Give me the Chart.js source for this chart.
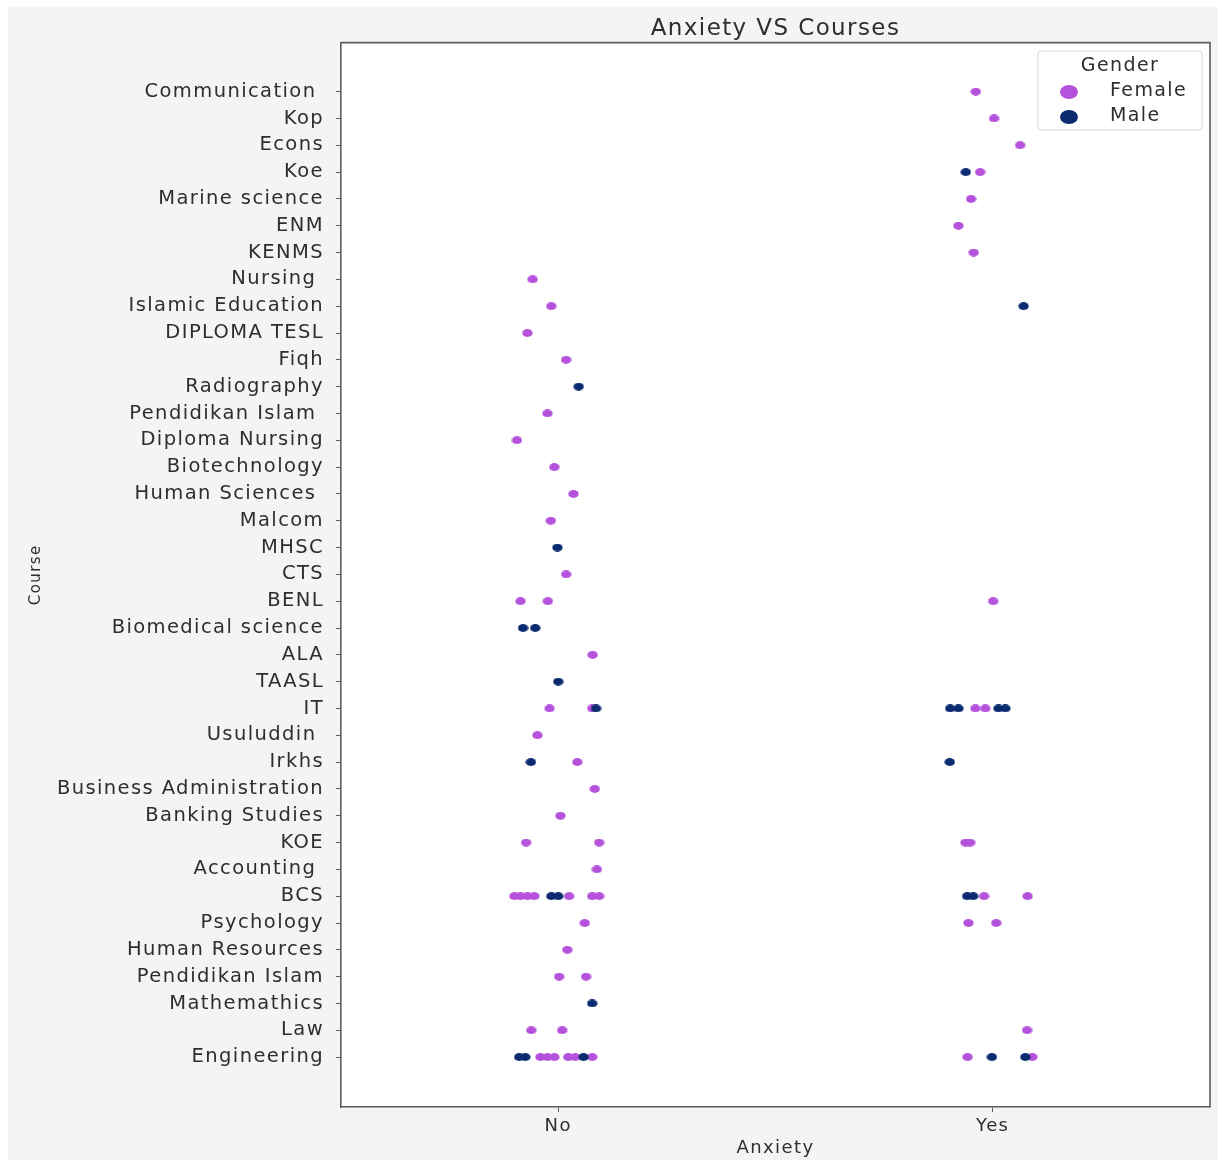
<!DOCTYPE html>
<html>
<head>
<meta charset="utf-8">
<script src="https://cdn.jsdelivr.net/npm/chart.js@4"></script>
<style>
html,body{margin:0;padding:0;background:#fff;}
#wrap{position:relative;width:1218px;height:1160px;}
</style>
</head>
<body>
<div id="wrap"><canvas id="c" width="1218" height="1160"></canvas></div>
<script>
// ---- data ----
const courses = [
  "Communication ", "Kop", "Econs", "Koe", "Marine science", "ENM", "KENMS",
  "Nursing ", "Islamic Education", "DIPLOMA TESL", "Fiqh", "Radiography",
  "Pendidikan Islam ", "Diploma Nursing", "Biotechnology", "Human Sciences ",
  "Malcom", "MHSC", "CTS", "BENL", "Biomedical science", "ALA", "TAASL", "IT",
  "Usuluddin ", "Irkhs", "Business Administration", "Banking Studies", "KOE",
  "Accounting ", "BCS", "Psychology", "Human Resources", "Pendidikan Islam",
  "Mathemathics", "Law", "Engineering"
];
const anxietyLabels = ["No", "Yes"];
const genders = ["Female", "Male"];

// jittered anxiety position (0 = No, 1 = Yes) and course index per point
const femaleAnxiety = [
  0.961, 1.003, 1.063, 0.971, 0.950, 0.921, 0.956,
  -0.059, -0.016, -0.071, 0.018, -0.025, -0.095, -0.009, 0.035, -0.017, 0.018,
  -0.087, -0.024, 1.001,
  0.079,
  -0.020, 0.078, 0.960, 0.983,
  -0.048, 0.044, 0.084, 0.005,
  -0.074, 0.094, 0.937, 0.948,
  0.089,
  -0.101, -0.087, -0.071, -0.055, 0.025, 0.078, 0.094, 0.980, 1.080,
  0.061, 0.944, 1.008,
  0.021,
  0.002, 0.064,
  -0.062, 0.009, 1.079,
  -0.041, -0.025, -0.009, 0.023, 0.039, 0.078, 0.942, 1.091
];
const femaleCourse = [
  0, 1, 2, 3, 4, 5, 6,
  7, 8, 9, 10, 12, 13, 14, 15, 16, 18,
  19, 19, 19,
  21,
  23, 23, 23, 23,
  24, 25, 26, 27,
  28, 28, 28, 28,
  29,
  30, 30, 30, 30, 30, 30, 30, 30, 30,
  31, 31, 31,
  32,
  33, 33,
  35, 35, 35,
  36, 36, 36, 36, 36, 36, 36, 36
];
const maleAnxiety = [
  0.938, 1.071, 0.047, -0.002, -0.081, -0.053, 0.000,
  0.087, 0.902, 0.921, 1.013, 1.029,
  -0.063, 0.901,
  -0.016, 0.000, 0.941, 0.955,
  0.078,
  -0.090, -0.076, 0.058, 0.998, 1.075
];
const maleCourse = [
  3, 8, 11, 17, 20, 20, 22,
  23, 23, 23, 23, 23,
  25, 25,
  30, 30, 30, 30,
  34,
  36, 36, 36, 36, 36
];

const femaleColor = '#B552DC';
const maleColor = '#0B2B70';
const FONT = "'DejaVu Sans', sans-serif";
const SPACING = '1.4px';

function pts(xs, ys) { return xs.map((x, i) => ({ x: x, y: ys[i] })); }

function dot(color) {
  const c = document.createElement('canvas');
  c.width = 11; c.height = 8;
  const g = c.getContext('2d');
  g.fillStyle = color;
  g.beginPath();
  g.ellipse(5.5, 4, 5.2, 3.9, 0, 0, Math.PI * 2);
  g.fill();
  return c;
}

const spacingPlugin = {
  id: 'spacing',
  beforeInit(chart) { chart.ctx.letterSpacing = SPACING; },
  beforeUpdate(chart) { chart.ctx.letterSpacing = SPACING; },
  beforeLayout(chart) { chart.ctx.letterSpacing = SPACING; },
  beforeDraw(chart) { chart.ctx.letterSpacing = SPACING; }
};

const figurePlugin = {
  id: 'figure',
  beforeDraw(chart) {
    const ctx = chart.ctx, a = chart.chartArea;
    ctx.save();
    ctx.fillStyle = '#ffffff';
    ctx.fillRect(0, 0, chart.width, chart.height);
    ctx.fillStyle = '#f4f4f4';
    ctx.fillRect(8, 7, chart.width - 8, chart.height - 7);
    ctx.fillStyle = '#ffffff';
    ctx.fillRect(a.left, a.top, a.right - a.left, a.bottom - a.top);
    ctx.restore();
  },
  afterDraw(chart) {
    const ctx = chart.ctx, a = chart.chartArea;
    ctx.save();
    ctx.strokeStyle = '#5c5c5c';
    ctx.lineWidth = 1.6;
    ctx.beginPath();
    ctx.moveTo(a.left, a.top); ctx.lineTo(a.right, a.top); ctx.lineTo(a.right, a.bottom);
    ctx.stroke();
    // legend
    const bx = 1038, by = 51, bw = 164, bh = 79;
    ctx.fillStyle = 'rgba(255,255,255,0.85)';
    ctx.strokeStyle = '#d6d6d6';
    ctx.lineWidth = 1;
    ctx.beginPath();
    if (ctx.roundRect) ctx.roundRect(bx, by, bw, bh, 3); else ctx.rect(bx, by, bw, bh);
    ctx.fill(); ctx.stroke();
    ctx.fillStyle = '#2e2e2e';
    ctx.font = '19px ' + FONT;
    ctx.textAlign = 'center';
    ctx.textBaseline = 'middle';
    ctx.fillText('Gender', bx + bw / 2, by + 15);
    ctx.textAlign = 'left';
    ctx.font = '19px ' + FONT;
    chart.data.datasets.forEach((ds, i) => {
      const y = by + 41 + i * 25;
      ctx.fillStyle = ds.backgroundColor;
      ctx.beginPath();
      ctx.ellipse(1069, y, 9, 7, 0, 0, Math.PI * 2);
      ctx.fill();
      ctx.fillStyle = '#2e2e2e';
      ctx.fillText(ds.label, 1110, y - 1);
    });
    ctx.restore();
  }
};

new Chart(document.getElementById('c'), {
  type: 'scatter',
  data: {
    datasets: [
      { label: genders[0], data: pts(femaleAnxiety, femaleCourse), backgroundColor: femaleColor,
        pointStyle: dot(femaleColor), borderWidth: 0, pointRadius: 4.3, order: 1 },
      { label: genders[1], data: pts(maleAnxiety, maleCourse), backgroundColor: maleColor,
        pointStyle: dot(maleColor), borderWidth: 0, pointRadius: 4.3, order: 0 }
    ]
  },
  options: {
    responsive: false,
    animation: false,
    events: [],
    layout: { padding: { left: 0, right: 8, top: 0, bottom: 0 } },
    plugins: {
      legend: { display: false },
      tooltip: { enabled: false },
      title: {
        display: true, text: 'Anxiety VS Courses', fullSize: false,
        color: '#2e2e2e', font: { family: FONT, size: 23, weight: 'normal' },
        padding: { top: 15, bottom: 0 }
      }
    },
    scales: {
      x: {
        type: 'linear', min: -0.5, max: 1.5,
        afterBuildTicks(s) { s.ticks = anxietyLabels.map((_, i) => ({ value: i })); },
        afterFit(s) { s.height = 53; },
        ticks: {
          callback: (v) => anxietyLabels[v], color: '#2e2e2e', padding: 4,
          font: { family: FONT, size: 18 }, maxRotation: 0, autoSkip: false
        },
        grid: { display: true, drawOnChartArea: false, drawTicks: true, tickLength: 5, color: '#5c5c5c', lineWidth: 1 },
        border: { display: true, color: '#5c5c5c', width: 1.6 },
        title: { display: true, text: 'Anxiety', color: '#2e2e2e', font: { family: FONT, size: 18 }, padding: { top: 0, bottom: 1 } }
      },
      y: {
        type: 'linear', reverse: true, min: -1.83, max: 37.86,
        afterBuildTicks(s) { s.ticks = courses.map((_, i) => ({ value: i })); },
        afterFit(s) { s.width = 341; },
        ticks: {
          callback: (v) => courses[v], color: '#2e2e2e', padding: 12,
          font: { family: FONT, size: 19.5 }, autoSkip: false
        },
        grid: { display: true, drawOnChartArea: false, drawTicks: true, tickLength: 5, color: '#5c5c5c', lineWidth: 1 },
        border: { display: true, color: '#5c5c5c', width: 1.6 },
        title: { display: true, text: 'Course', color: '#2e2e2e', font: { family: FONT, size: 15 }, padding: { top: 27, bottom: 0 } }
      }
    }
  },
  plugins: [spacingPlugin, figurePlugin]
});
</script>
</body>
</html>
